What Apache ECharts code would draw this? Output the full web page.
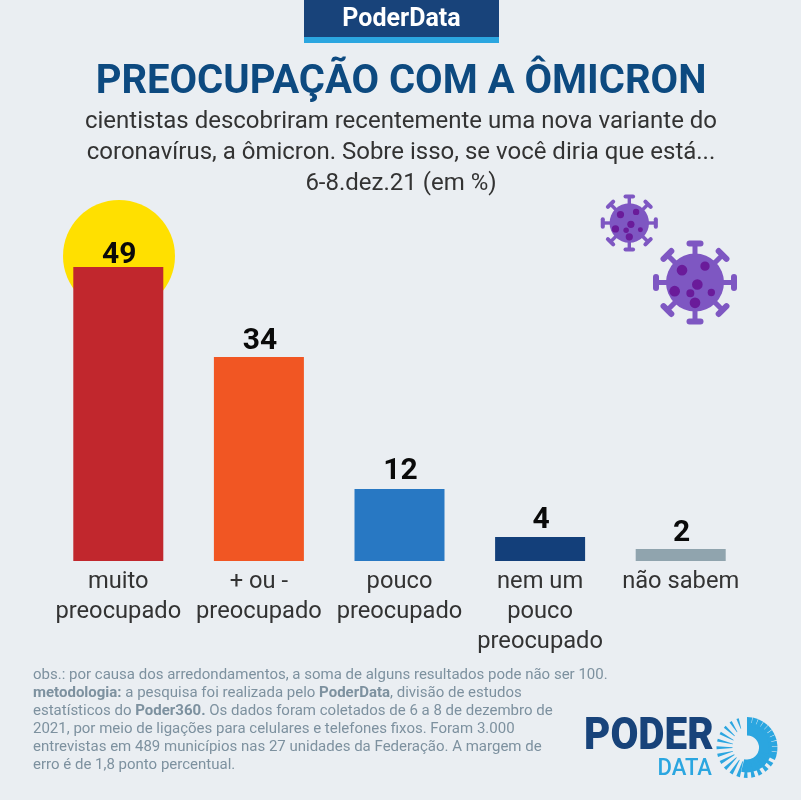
<!DOCTYPE html>
<html><head><meta charset="utf-8">
<style>html,body{margin:0;padding:0;background:#eaeef2}#c{width:801px;height:800px}</style>
<script src="https://cdn.jsdelivr.net/npm/echarts@6/dist/echarts.min.js"></script>
</head><body><div id="c"></div>
<script>
const categories = ['muito\npreocupado', '+ ou -\npreocupado', 'pouco\npreocupado', 'nem um\npouco\npreocupado', 'não sabem'];
const values = [49, 34, 12, 4, 2];
const labelNudges = [3, -1, -3, -2, -1];
const barColors = ['#c1272d', '#f15623', '#2878c3', '#133f7a', '#90a4ae'];
const titleText = 'PREOCUPAÇÃO COM A ÔMICRON';
const subtitleText = 'cientistas descobriram recentemente uma nova variante do\ncoronavírus, a ômicron. Sobre isso, se você diria que está...\n6-8.dez.21 (em %)';
const footerText = [
  '{n|obs.: por causa dos arredondamentos, a soma de alguns resultados pode não ser 100.}',
  '{b|metodologia:}{n| a pesquisa foi realizada pelo }{b|PoderData}{n|, divisão de estudos}',
  '{n|estatísticos do }{b|Poder360.}{n| Os dados foram coletados de 6 a 8 de dezembro de}',
  '{n|2021, por meio de ligações para celulares e telefones fixos. Foram 3.000}',
  '{n|entrevistas em 489 municípios nas 27 unidades da Federação. A margem de}',
  '{n|erro é de 1,8 ponto percentual.}'
].join('\n');
const virusSpots = [[-39,-37,16],[30,-49,14],[7,6,16],[-61,26,16],[-14,32,12],[49,30,11],[0,61,16]];
const FONT = 'Roboto';

function virus(cx, cy, k) {
  const c = '#7e57c2', d = '#6a1b9a', ch = [];
  ch.push({type:'circle', shape:{cx:0, cy:0, r:29}, style:{fill:c}});
  for (let i = 0; i < 8; i++) {
    ch.push({type:'group', rotation:i*Math.PI/4, children:[
      {type:'rect', shape:{x:-2.5, y:-40, width:5, height:14}, style:{fill:c}},
      {type:'rect', shape:{x:-8.5, y:-42, width:17, height:6, r:3}, style:{fill:c}}
    ]});
  }
  virusSpots.forEach(s => ch.push({type:'circle', shape:{cx:s[0]/3, cy:s[1]/3, r:s[2]/3}, style:{fill:d}}));
  return {type:'group', x:cx, y:cy, scaleX:k, scaleY:k, z:3, children:ch};
}

function sunburst(cx, cy) {
  const ch = [], blue = '#2ba6e0';
  const p = (r, ang) => { const q = (ang-90)*Math.PI/180; return [r*Math.cos(q), r*Math.sin(q)]; };
  ch.push({type:'sector', shape:{cx:0, cy:0, r0:12, r:25, startAngle:-Math.PI/2, endAngle:Math.PI/2*1.15, clockwise:true}, style:{fill:blue}});
  for (let a = 0; a < 100; a += 11) {
    ch.push({type:'polygon', shape:{points:[p(22,a), p(30.5,a), p(30.5,a+10), p(22,a+10)]}, style:{fill:blue}});
  }
  for (let a = 110; a < 350; a += 14.5) {
    const t = (a-110)/240;
    const half = 4.2 - 2*t;
    const r0 = 14.5 + (t > 0.75 ? 6*(t-0.75)/0.25 : 0);
    const hi = half*0.4;
    ch.push({type:'polygon', shape:{points:[p(r0,a-hi), p(30.5,a-half), p(30.5,a+half), p(r0,a+hi)]}, style:{fill:blue}});
  }
  return {type:'group', x:cx, y:cy, z:3, children:ch};
}

const chart = echarts.init(document.getElementById('c'), null, {renderer:'canvas'});
chart.setOption({
  animation:false,
  backgroundColor:'#eaeef2',
  textStyle:{fontFamily:FONT},
  title:[
    {text:titleText, left:396, top:58, textAlign:'center', textStyle:{fontFamily:FONT, fontSize:40, fontWeight:700, color:'#0d4a80'}},
    {text:subtitleText, left:396, top:101, textAlign:'center', textStyle:{fontFamily:FONT, fontSize:24, fontWeight:400, color:'#333', lineHeight:31, align:'center'}}
  ],
  grid:{left:48, right:50, top:261, bottom:239},
  xAxis:{type:'category', data:categories, axisLine:{show:false}, axisTick:{show:false},
    axisLabel:{fontFamily:FONT, fontSize:23.7, color:'#333', lineHeight:30, margin:6, interval:0, verticalAlign:'top'}},
  yAxis:{type:'value', min:0, max:50, show:false, splitLine:{show:false}},
  series:[{type:'bar', barWidth:90, z:5,
    data:values.map((v,i)=>({value:v, itemStyle:{color:barColors[i]}, label:{offset:[1,labelNudges[i]]}})),
    label:{show:true, position:'top', distance:0, fontFamily:FONT, fontSize:30, fontWeight:700, color:'#0a0a0a'}}],
  graphic:[
    {type:'circle', z:1, shape:{cx:119, cy:256, r:56}, style:{fill:'#ffe000'}},
    {type:'rect', z:1, shape:{x:304, y:0, width:195, height:37}, style:{fill:'#18437a'}},
    {type:'rect', z:1, shape:{x:304, y:37, width:195, height:6}, style:{fill:'#2ba6e0'}},
    {type:'text', z:3, x:401.5, y:19.5, style:{text:'PoderData', fill:'#fff', font:'700 25px Roboto', align:'center', verticalAlign:'middle'}},
    virus(695, 282.5, 1),
    virus(629.3, 223, 0.68),
    {type:'text', z:3, x:33, y:666, style:{text:footerText, align:'left', verticalAlign:'top', lineHeight:18,
      rich:{n:{fontFamily:FONT, fontSize:15, fill:'#7d919f', lineHeight:18},
            b:{fontFamily:FONT, fontSize:15, fontWeight:700, fill:'#7d919f', lineHeight:18}}}},
    {type:'text', z:3, x:584, y:738, scaleX:0.9, style:{text:'PODER', fill:'#18437a', font:'900 45px Roboto', align:'left', verticalAlign:'middle'}},
    {type:'text', z:3, x:712, y:768.5, scaleX:0.92, style:{text:'DATA', fill:'#2ba6e0', font:'500 24px Roboto', align:'right', verticalAlign:'middle'}},
    sunburst(747, 747.5)
  ]
});
</script></body></html>
